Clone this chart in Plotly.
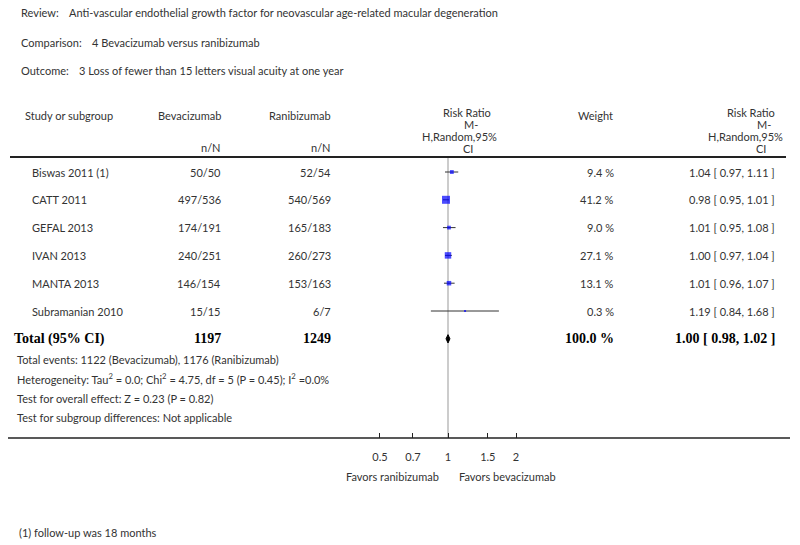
import math
import plotly.graph_objects as go

# ---------------- data ----------------
studies = ["Biswas 2011 (1)", "CATT 2011", "GEFAL 2013", "IVAN 2013", "MANTA 2013", "Subramanian 2010"]
bev_events = [50, 497, 174, 240, 146, 15]
bev_total = [50, 536, 191, 251, 154, 15]
ran_events = [52, 540, 165, 260, 153, 6]
ran_total = [54, 569, 183, 273, 163, 7]
weights = [9.4, 41.2, 9.0, 27.1, 13.1, 0.3]
rr = [1.04, 0.98, 1.01, 1.00, 1.01, 1.19]
rr_lo = [0.97, 0.95, 0.95, 0.97, 0.96, 0.84]
rr_hi = [1.11, 1.01, 1.08, 1.04, 1.07, 1.68]
total_rr, total_lo, total_hi = 1.00, 0.98, 1.02
total_weight = 100.0
tick_vals = [0.5, 0.7, 1, 1.5, 2]
tick_text = ["0.5", "0.7", "1", "1.5", "2"]

review = "Anti-vascular endothelial growth factor for neovascular age-related macular degeneration"
comparison = "4 Bevacizumab versus ranibizumab"
outcome = "3 Loss of fewer than 15 letters visual acuity at one year"
het_text = "Heterogeneity: Tau<sup>2</sup> = 0.0; Chi<sup>2</sup> = 4.75, df = 5 (P = 0.45); I<sup>2</sup> =0.0%"
overall_text = "Test for overall effect: Z = 0.23 (P = 0.82)"
subgroup_text = "Test for subgroup differences: Not applicable"
footnote = "(1) follow-up was 18 months"

# ---------------- layout geometry ----------------
W, H = 800, 545
PLOT_BOTTOM = 438          # px of the axis line
ROW0_PX, ROW_H = 172, 27.8
X1_PX, PX_PER_DEC = 448, 226
FONT = "Lato"
SERIF = "Liberation Serif"
TXT = "#333333"
FS = 11

n = len(studies)
total_row = n

def py(px):
    return (PLOT_BOTTOM - px) / PLOT_BOTTOM

def px_x(px):
    return px / W

ann = []

def t(x_px, y_px, s, anchor="left", size=FS, family=FONT, color=TXT, yref="paper"):
    ann.append(dict(
        x=px_x(x_px), xref="paper",
        y=py(y_px) if yref == "paper" else y_px, yref=yref,
        text=s, showarrow=False, xanchor=anchor, yanchor="middle",
        font=dict(family=family, size=size, color=color),
    ))

# title lines
t(19, 12, "Review:")
t(67, 12, review)
t(19, 42, "Comparison:")
t(90, 42, comparison)
t(19, 70, "Outcome:")
t(77, 70, outcome)

# column headers
t(23, 115, "Study or subgroup")
t(223, 115, "Bevacizumab", anchor="right")
t(223, 147, "n/N", anchor="right")
t(333, 115, "Ranibizumab", anchor="right")
t(333, 147, "n/N", anchor="right")
t(467, 113, "Risk Ratio", anchor="center")
t(471, 125, "M-", anchor="center")
t(460, 137, "H,Random,95%", anchor="center")
t(468, 149, "CI", anchor="center")
t(595, 115, "Weight", anchor="center")
t(777, 113, "Risk Ratio", anchor="right")
t(773, 125, "M-", anchor="right")
t(785, 137, "H,Random,95%", anchor="right")
t(768, 149, "CI", anchor="right")

# study rows
for i in range(n):
    t(30, i, studies[i], yref="y")
    t(223, i, f"{bev_events[i]}/{bev_total[i]}", anchor="right", yref="y")
    t(333, i, f"{ran_events[i]}/{ran_total[i]}", anchor="right", yref="y")
    t(616, i, f"{weights[i]:.1f} %", anchor="right", yref="y")
    t(777, i, f"{rr[i]:.2f} [ {rr_lo[i]:.2f}, {rr_hi[i]:.2f} ]", anchor="right", yref="y")

# total row
t(12, total_row, "<b>Total (95% CI)</b>", size=14, family=SERIF, color="#000", yref="y")
t(223, total_row, f"<b>{sum(bev_total)}</b>", anchor="right", size=14, family=SERIF, color="#000", yref="y")
t(333, total_row, f"<b>{sum(ran_total)}</b>", anchor="right", size=14, family=SERIF, color="#000", yref="y")
t(616, total_row, f"<b>{total_weight:.1f} %</b>", anchor="right", size=14, family=SERIF, color="#000", yref="y")
t(777, total_row, f"<b>{total_rr:.2f} [ {total_lo:.2f}, {total_hi:.2f} ]</b>", anchor="right", size=14, family=SERIF, color="#000", yref="y")

# footer stats
t(15, 359, f"Total events: {sum(bev_events)} (Bevacizumab), {sum(ran_events)} (Ranibizumab)")
t(15, 378, het_text)
t(15, 398, overall_text)
t(15, 417, subgroup_text)

# favors labels and footnote
t(392, 476, "Favors ranibizumab", anchor="center")
t(507, 476, "Favors bevacizumab", anchor="center")
t(17, 532, footnote)

# ---------------- traces ----------------
fig = go.Figure()
sizes = [max(2, 8 * math.sqrt(w / max(weights))) for w in weights]
fig.add_trace(go.Scatter(
    x=rr, y=list(range(n)), mode="markers",
    marker=dict(symbol="square", size=sizes, color="#0000FF", line=dict(width=0)),
    error_x=dict(type="data", symmetric=False,
                 array=[h - r for h, r in zip(rr_hi, rr)],
                 arrayminus=[r - l for r, l in zip(rr, rr_lo)],
                 color="#333333", thickness=1, width=0),
    hoverinfo="skip", showlegend=False, cliponaxis=False,
))
dh = 0.15
fig.add_trace(go.Scatter(
    x=[total_lo, total_rr, total_hi, total_rr, total_lo],
    y=[total_row, total_row - dh, total_row, total_row + dh, total_row],
    mode="lines", fill="toself", fillcolor="#000000",
    line=dict(color="#000000", width=1), hoverinfo="skip", showlegend=False,
))

shapes = [
    # line of no effect
    dict(type="line", xref="x", x0=1, x1=1, yref="paper", y0=0, y1=py(157),
         line=dict(color="#999999", width=1), layer="below"),
    # header rule
    dict(type="line", xref="paper", x0=px_x(10), x1=px_x(786), yref="paper",
         y0=py(157), y1=py(157), line=dict(color="#222222", width=2)),
    # bottom rule / axis line
    dict(type="line", xref="paper", x0=px_x(8), x1=px_x(790), yref="paper",
         y0=0, y1=0, line=dict(color="#222222", width=1.5)),
]

xlo = -X1_PX / PX_PER_DEC
xhi = (W - X1_PX) / PX_PER_DEC
ylo = (PLOT_BOTTOM - ROW0_PX) / ROW_H
yhi = -ROW0_PX / ROW_H

fig.update_layout(
    width=W, height=H,
    margin=dict(l=0, r=0, t=0, b=H - PLOT_BOTTOM, pad=0),
    paper_bgcolor="white", plot_bgcolor="white",
    xaxis=dict(type="log", range=[xlo, xhi], tickvals=tick_vals, ticktext=tick_text,
               ticks="inside", ticklen=5, tickwidth=1, tickcolor="#222222",
               showgrid=False, zeroline=False, showline=False,
               tickfont=dict(family=FONT, size=FS, color=TXT), ticklabelstandoff=11),
    yaxis=dict(range=[ylo, yhi], visible=False, showgrid=False, zeroline=False),
    annotations=ann, shapes=shapes,
)

fig.write_html("out.html", config={"displayModeBar": False},
               post_script="document.body.style.margin='0';document.body.style.padding='0';")
